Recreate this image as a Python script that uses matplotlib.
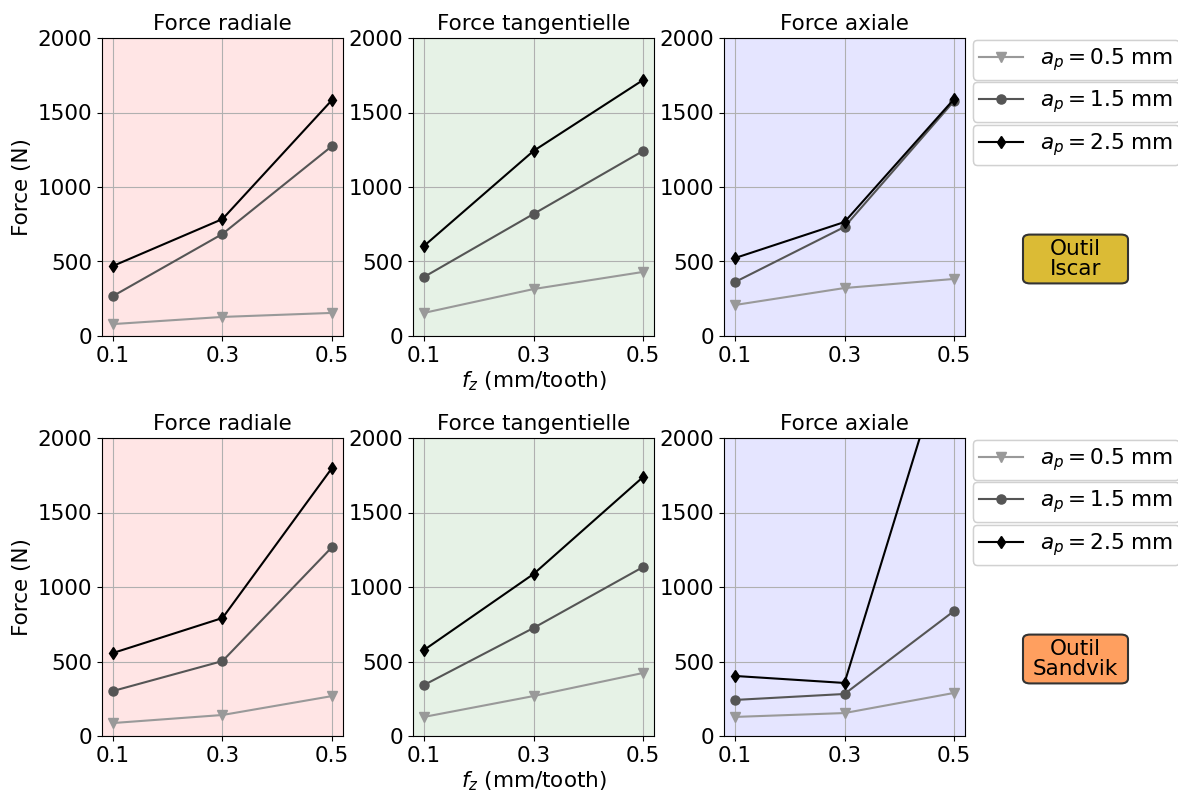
import matplotlib
matplotlib.use("Agg")
import matplotlib.pyplot as plt
from matplotlib.patches import FancyBboxPatch

plt.rcParams['font.family'] = ['DejaVu Sans']
plt.rcParams['font.size'] = 15.5

fz = [0.1, 0.3, 0.5]
fz_ticks = ["0.1", "0.3", "0.5"]
series_labels = [r"$a_p = 0.5$ mm", r"$a_p = 1.5$ mm", r"$a_p = 2.5$ mm"]
force_titles = ["Force radiale", "Force tangentielle", "Force axiale"]
tool_names = ["Outil\nIscar", "Outil\nSandvik"]

# Iscar: [radial, tangential, axial], each [ap0.5, ap1.5, ap2.5]
iscar_radial = [[80, 128, 155], [268, 685, 1275], [470, 785, 1584]]
iscar_tangential = [[155, 315, 430], [396, 819, 1242], [604, 1242, 1718]]
iscar_axial = [[208, 322, 383], [362, 732, 1577], [523, 765, 1590]]

sandvik_radial = [[87, 141, 268], [302, 503, 1268], [557, 792, 1799]]
sandvik_tangential = [[128, 268, 423], [342, 725, 1134], [577, 1087, 1738]]
sandvik_axial = [[128, 154, 289], [242, 282, 839], [403, 356, 2750]]

rows = [[iscar_radial, iscar_tangential, iscar_axial],
        [sandvik_radial, sandvik_tangential, sandvik_axial]]

bg_colors = ["#ffe5e5", "#e6f2e6", "#e5e5ff"]
line_colors = ["#999999", "#555555", "#000000"]
markers = ["v", "o", "d"]
tool_colors = ["#dbbb35", "#ff9f5f"]

W, H = 1178, 792
fig = plt.figure(figsize=(W / 100, H / 100), dpi=100)

ax_left = [102, 413, 724]
ax_w = 241
ax_top = [38, 438]
ax_h = 298

for r in range(2):
    handles = []
    for c in range(3):
        x0 = ax_left[c] / W
        y0 = (H - ax_top[r] - ax_h) / H
        ax = fig.add_axes([x0, y0, ax_w / W, ax_h / H])
        ax.set_facecolor(bg_colors[c])
        for k in range(3):
            h, = ax.plot(fz, rows[r][c][k], color=line_colors[k], marker=markers[k],
                         markersize=6.5, linewidth=1.5, label=series_labels[k])
            if c == 0:
                handles.append(h)
        ax.set_ylim(0, 2000)
        ax.set_yticks([0, 500, 1000, 1500, 2000])
        ax.set_xticks(fz)
        ax.set_xticklabels(fz_ticks)
        ax.set_xlim(0.08, 0.52)
        ax.grid(True, color="#b0b0b0", linewidth=0.8)
        ax.set_axisbelow(True)
        ax.set_title(force_titles[c], fontsize=15.5)
        if c == 0:
            ax.set_ylabel("Force (N)")
        if c == 1:
            ax.set_xlabel(r"$f_z$ (mm/tooth)", labelpad=2.5)
    # legends, one box per series
    tops = [40, 82, 125]
    for k in range(3):
        y_anchor = (H - (ax_top[r] - 38) - tops[k]) / H
        leg = fig.legend([handles[k]], [series_labels[k]], loc="upper left",
                         bbox_to_anchor=(973 / W, y_anchor), borderaxespad=0,
                         borderpad=0.3, frameon=True)
        fig.add_artist(leg)
    # tool box (fixed size)
    bx0, bx1 = 1023, 1128
    by_top, by_bot = ax_top[r] + 195, ax_top[r] + 247
    box = FancyBboxPatch((bx0 / W + 0.004, (H - by_bot) / H + 0.006),
                         (bx1 - bx0) / W - 0.008, (by_bot - by_top) / H - 0.012,
                         boxstyle="round,pad=0.004,rounding_size=0.006",
                         transform=fig.transFigure, facecolor=tool_colors[r],
                         edgecolor="#333333", linewidth=1.5)
    fig.add_artist(box)
    fig.text((bx0 + bx1) / 2 / W, (H - (by_top + by_bot) / 2) / H, tool_names[r],
             ha="center", va="center", linespacing=0.95)

fig.savefig("out.png", dpi=100)
